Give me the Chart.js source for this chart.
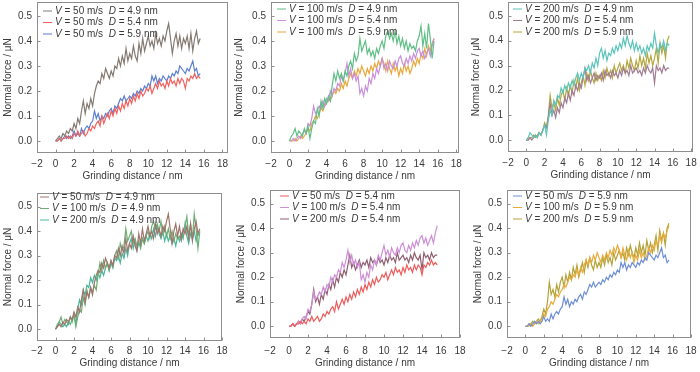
<!DOCTYPE html>
<html>
<head>
<meta charset="utf-8">
<script src="https://cdn.jsdelivr.net/npm/chart.js@4.4.1/dist/chart.umd.min.js"></script>
<style>
  html, body { margin: 0; padding: 0; background: #fff; }
  body { width: 700px; height: 372px; position: relative; overflow: hidden; }
  .panel { position: absolute; }
</style>
</head>
<body>
<div class="panel" id="w1"><canvas id="c1"></canvas></div>
<div class="panel" id="w2"><canvas id="c2"></canvas></div>
<div class="panel" id="w3"><canvas id="c3"></canvas></div>
<div class="panel" id="w4"><canvas id="c4"></canvas></div>
<div class="panel" id="w5"><canvas id="c5"></canvas></div>
<div class="panel" id="w6"><canvas id="c6"></canvas></div>
<script>
// grinding distance (nm), shared by every curve
const distance = [
  0, 0.2, 0.4, 0.6, 0.8, 1, 1.2, 1.4, 1.6, 1.8,
  2, 2.2, 2.4, 2.6, 2.8, 3, 3.2, 3.4, 3.6, 3.8,
  4, 4.2, 4.4, 4.6, 4.8, 5, 5.2, 5.4, 5.6, 5.8,
  6, 6.2, 6.4, 6.6, 6.8, 7, 7.2, 7.4, 7.6, 7.8,
  8, 8.2, 8.4, 8.6, 8.8, 9, 9.2, 9.4, 9.6, 9.8,
  10, 10.2, 10.4, 10.6, 10.8, 11, 11.2, 11.4, 11.6, 11.8,
  12, 12.2, 12.4, 12.6, 12.8, 13, 13.2, 13.4, 13.6, 13.8,
  14, 14.2, 14.4, 14.6, 14.8, 15, 15.2, 15.4, 15.6
];

// normal force (uN) for each V / D case
const v50d49 = [
  0.00, 0.01, 0.02, 0.01, 0.03, 0.02, 0.04, 0.03, 0.05, 0.04,
  0.07, 0.05, 0.09, 0.07, 0.12, 0.16, 0.11, 0.15, 0.13, 0.17,
  0.14, 0.19, 0.22, 0.24, 0.23, 0.27, 0.25, 0.29, 0.27, 0.25,
  0.28, 0.26, 0.30, 0.29, 0.33, 0.30, 0.34, 0.31, 0.37, 0.32,
  0.35, 0.33, 0.38, 0.34, 0.32, 0.39, 0.35, 0.41, 0.36, 0.39,
  0.42, 0.38, 0.40, 0.37, 0.43, 0.39, 0.41, 0.38, 0.42, 0.40,
  0.44, 0.47, 0.41, 0.35, 0.40, 0.43, 0.38, 0.42, 0.37, 0.41,
  0.39, 0.42, 0.37, 0.43, 0.36, 0.41, 0.44, 0.39, 0.41
];
const v50d54 = [
  0.00, 0.00, 0.01, 0.00, 0.01, 0.01, 0.02, 0.01, 0.02, 0.01,
  0.03, 0.02, 0.04, 0.02, 0.03, 0.04, 0.02, 0.03, 0.05, 0.04,
  0.06, 0.05, 0.07, 0.08, 0.06, 0.10, 0.07, 0.09, 0.11, 0.09,
  0.12, 0.10, 0.13, 0.11, 0.14, 0.12, 0.15, 0.13, 0.16, 0.14,
  0.17, 0.15, 0.18, 0.16, 0.19, 0.17, 0.20, 0.18, 0.19, 0.21,
  0.20, 0.22, 0.19, 0.21, 0.23, 0.21, 0.24, 0.22, 0.23, 0.21,
  0.24, 0.22, 0.25, 0.23, 0.24, 0.22, 0.25, 0.23, 0.25, 0.24,
  0.21, 0.25, 0.24, 0.26, 0.25, 0.27, 0.25, 0.26, 0.25
];
const v50d59 = [
  0.00, 0.00, 0.01, 0.00, 0.01, 0.02, 0.01, 0.02, 0.01, 0.02,
  0.04, 0.02, 0.03, 0.02, 0.05, 0.03, 0.05, 0.06, 0.05, 0.07,
  0.08, 0.12, 0.09, 0.11, 0.08, 0.10, 0.09, 0.11, 0.10, 0.12,
  0.13, 0.11, 0.14, 0.13, 0.15, 0.17, 0.16, 0.18, 0.16, 0.17,
  0.18, 0.17, 0.19, 0.18, 0.20, 0.19, 0.21, 0.20, 0.22, 0.21,
  0.23, 0.22, 0.26, 0.24, 0.26, 0.23, 0.25, 0.24, 0.26, 0.25,
  0.24, 0.26, 0.25, 0.27, 0.26, 0.28, 0.27, 0.30, 0.29, 0.28,
  0.27, 0.29, 0.28, 0.30, 0.32, 0.28, 0.29, 0.26, 0.27
];
const v100d49 = [
  0.00, 0.02, 0.03, 0.05, 0.02, 0.04, 0.03, 0.02, 0.05, 0.03,
  0.06, 0.01, 0.05, 0.08, 0.07, 0.13, 0.10, 0.16, 0.13, 0.17,
  0.15, 0.18, 0.16, 0.22, 0.27, 0.24, 0.28, 0.25, 0.27, 0.24,
  0.28, 0.26, 0.30, 0.32, 0.29, 0.35, 0.32, 0.34, 0.41, 0.36,
  0.38, 0.40, 0.35, 0.37, 0.34, 0.36, 0.33, 0.37, 0.35, 0.38,
  0.40, 0.37, 0.42, 0.44, 0.41, 0.43, 0.40, 0.44, 0.39, 0.42,
  0.38, 0.41, 0.37, 0.40, 0.36, 0.39, 0.37, 0.38, 0.36, 0.40,
  0.42, 0.46, 0.38, 0.43, 0.37, 0.47, 0.41, 0.33, 0.40
];
const v100d54 = [
  0.00, 0.00, 0.01, 0.00, 0.01, 0.02, 0.01, 0.03, 0.04, 0.03,
  0.07, 0.06, 0.09, 0.14, 0.11, 0.12, 0.14, 0.13, 0.16, 0.14,
  0.17, 0.16, 0.20, 0.18, 0.21, 0.20, 0.23, 0.22, 0.26, 0.24,
  0.27, 0.31, 0.26, 0.29, 0.25, 0.27, 0.24, 0.26, 0.19, 0.21,
  0.18, 0.22, 0.20, 0.25, 0.23, 0.27, 0.25, 0.29, 0.27, 0.30,
  0.33, 0.29, 0.31, 0.28, 0.32, 0.30, 0.29, 0.32, 0.30, 0.33,
  0.34, 0.31, 0.30, 0.33, 0.31, 0.34, 0.32, 0.35, 0.33, 0.36,
  0.37, 0.34, 0.36, 0.33, 0.35, 0.37, 0.34, 0.38, 0.41
];
const v100d59 = [
  0.00, 0.00, 0.00, 0.01, 0.00, 0.01, 0.02, 0.01, 0.02, 0.03,
  0.05, 0.04, 0.07, 0.08, 0.10, 0.09, 0.11, 0.13, 0.12, 0.14,
  0.15, 0.17, 0.16, 0.18, 0.20, 0.19, 0.21, 0.20, 0.23, 0.21,
  0.24, 0.22, 0.25, 0.27, 0.25, 0.28, 0.26, 0.29, 0.27, 0.30,
  0.28, 0.26, 0.29, 0.27, 0.30, 0.28, 0.31, 0.29, 0.32, 0.30,
  0.33, 0.31, 0.28, 0.32, 0.29, 0.27, 0.31, 0.28, 0.30, 0.26,
  0.29, 0.27, 0.31, 0.28, 0.30, 0.27, 0.29, 0.32, 0.30, 0.33,
  0.31, 0.35, 0.33, 0.37, 0.34, 0.38, 0.36, 0.39, 0.41
];
const v200d49 = [
  0.00, 0.01, 0.03, 0.02, 0.01, 0.02, 0.01, 0.03, 0.02, 0.04,
  0.06, 0.02, 0.08, 0.12, 0.10, 0.16, 0.14, 0.18, 0.17, 0.21,
  0.19, 0.22, 0.20, 0.23, 0.21, 0.24, 0.22, 0.25, 0.27, 0.24,
  0.27, 0.25, 0.29, 0.28, 0.30, 0.27, 0.31, 0.29, 0.33, 0.30,
  0.35, 0.37, 0.33, 0.36, 0.32, 0.35, 0.34, 0.37, 0.35, 0.38,
  0.36, 0.39, 0.37, 0.41, 0.38, 0.42, 0.39, 0.37, 0.40, 0.36,
  0.39, 0.36, 0.38, 0.35, 0.37, 0.34, 0.38, 0.36, 0.39, 0.37,
  0.43, 0.38, 0.35, 0.39, 0.37, 0.40, 0.36, 0.39, 0.38
];
const v200d54 = [
  0.00, 0.00, 0.01, 0.00, 0.01, 0.02, 0.01, 0.03, 0.02, 0.04,
  0.06, 0.05, 0.09, 0.15, 0.10, 0.12, 0.09, 0.13, 0.11, 0.15,
  0.13, 0.17, 0.15, 0.19, 0.16, 0.20, 0.18, 0.22, 0.20, 0.23,
  0.21, 0.25, 0.29, 0.24, 0.26, 0.23, 0.25, 0.27, 0.24, 0.26,
  0.25, 0.27, 0.24, 0.28, 0.26, 0.27, 0.25, 0.28, 0.26, 0.27,
  0.25, 0.28, 0.26, 0.29, 0.27, 0.28, 0.26, 0.30, 0.27, 0.28,
  0.29, 0.27, 0.28, 0.26, 0.29, 0.27, 0.30, 0.28, 0.27, 0.29,
  0.23, 0.30, 0.28, 0.29, 0.27, 0.30, 0.28, 0.29, 0.29
];
const v200d59 = [
  0.00, 0.00, 0.01, 0.01, 0.02, 0.01, 0.02, 0.03, 0.02, 0.04,
  0.07, 0.05, 0.10, 0.18, 0.13, 0.15, 0.12, 0.17, 0.14, 0.18,
  0.20, 0.16, 0.21, 0.18, 0.22, 0.19, 0.24, 0.21, 0.25, 0.20,
  0.23, 0.26, 0.22, 0.27, 0.24, 0.28, 0.25, 0.23, 0.27, 0.24,
  0.26, 0.24, 0.28, 0.25, 0.29, 0.26, 0.28, 0.25, 0.30, 0.27,
  0.29, 0.31, 0.28, 0.30, 0.27, 0.32, 0.29, 0.33, 0.30, 0.28,
  0.32, 0.29, 0.34, 0.30, 0.33, 0.29, 0.35, 0.31, 0.34, 0.30,
  0.33, 0.37, 0.31, 0.39, 0.35, 0.38, 0.33, 0.40, 0.42
];

const xTicks = [-2, 0, 2, 4, 6, 8, 10, 12, 14, 16, 18];
const yTicks = [0.0, 0.1, 0.2, 0.3, 0.4, 0.5];

// which curves go in which panel: [values, speed m/s, D nm, colour]
const panels = [
  { box: [0, 0, 235, 185], pt: 2, pr: 7, yw: 37, ytp: 2.5, xpad: 5, xtp: 3, xmax: 18.6, leg: [6, 9],
    lines: [[v50d49, 50, 4.9, '#857a72'], [v50d54, 50, 5.4, '#f0625e'], [v50d59, 50, 5.9, '#5a7fd0']] },
  { box: [231, 0, 235, 185], pt: 2, pr: 7, yw: 40, ytp: 2.5, xpad: 5, xtp: 3, xmax: 18.3, leg: [6, 7],
    lines: [[v100d49, 100, 4.9, '#5fbf85'], [v100d54, 100, 5.4, '#c88fdc'], [v100d59, 100, 5.9, '#e9a93a']] },
  { box: [468, 0, 232, 184], pt: 2, pr: 7, yw: 40, ytp: 2.5, xpad: 5, xtp: 3, xmax: 18.2, leg: [5, 7],
    lines: [[v200d49, 200, 4.9, '#5cc5bb'], [v200d54, 200, 5.4, '#a07c93'], [v200d59, 200, 5.9, '#b5a73f']] },
  { box: [0, 188, 229, 185], pt: 5, pr: 7, yw: 37, ytp: 2.5, xpad: 4, xtp: 4, xmax: 18, leg: [3, 4],
    lines: [[v50d49, 50, 4.9, '#a0746c'], [v100d49, 100, 4.9, '#6eae74'], [v200d49, 200, 4.9, '#4ab59b']] },
  { box: [230, 186, 237, 184], pt: 4, pr: 7, yw: 40, ytp: 5, xpad: 7, xtp: 1, xmax: 18, leg: [10, 6],
    lines: [[v50d54, 50, 5.4, '#ee5c5c'], [v100d54, 100, 5.4, '#cf8fd8'], [v200d54, 200, 5.4, '#8f5f70']] },
  { box: [467, 186, 231, 184], pt: 4, pr: 7, yw: 40, ytp: 5, xpad: 7, xtp: 1, xmax: 18, leg: [6, 6],
    lines: [[v50d59, 50, 5.9, '#6e8fd6'], [v100d59, 100, 5.9, '#e7ab3c'], [v200d59, 200, 5.9, '#b3a236']] }
];

const FONT = '"Liberation Sans", Arial, sans-serif';
const TEXT = '#3a3a3a';

// grey frame, small inward ticks and the V/D legend inside the plot
const framePlugin = {
  id: 'frame',
  afterDraw(chart, args, opts) {
    const { ctx, chartArea: a, scales } = chart;
    const L = Math.round(a.left) + 0.5, R = Math.round(a.right) - 0.5;
    const T = Math.round(a.top) + 0.5, B = Math.round(a.bottom) - 0.5;
    ctx.save();
    ctx.strokeStyle = '#8e8e8e';
    ctx.lineWidth = 1;
    ctx.strokeRect(L, T, R - L, B - T);
    ctx.beginPath();
    scales.x.ticks.forEach(t => {
      const px = Math.round(scales.x.getPixelForValue(t.value)) + 0.5;
      ctx.moveTo(px, B); ctx.lineTo(px, B - 3);
    });
    scales.y.ticks.forEach(t => {
      const py = Math.round(scales.y.getPixelForValue(t.value)) + 0.5;
      ctx.moveTo(L, py); ctx.lineTo(L + 3, py);
    });
    ctx.stroke();

    ctx.textBaseline = 'middle';
    chart.data.datasets.forEach((ds, i) => {
      const y = a.top + opts.dy + i * 11.5;
      let x = a.left + opts.dx;
      ctx.strokeStyle = ds.borderColor;
      ctx.beginPath();
      ctx.moveTo(x, y); ctx.lineTo(x + 9, y);
      ctx.stroke();
      x += 12;
      const parts = [['V', true], [' = ' + ds.speed + ' m/s  ', false], ['D', true], [' = ' + ds.dia.toFixed(1) + ' nm', false]];
      ctx.fillStyle = TEXT;
      parts.forEach(([s, it]) => {
        ctx.font = (it ? 'italic ' : '') + '10px ' + FONT;
        ctx.fillText(s, x, y);
        x += ctx.measureText(s).width;
      });
    });
    ctx.restore();
  }
};

panels.forEach((p, k) => {
  const wrap = document.getElementById('w' + (k + 1));
  const cv = document.getElementById('c' + (k + 1));
  const [left, top, w, h] = p.box;
  wrap.style.left = left + 'px';
  wrap.style.top = top + 'px';
  cv.width = w; cv.height = h;
  cv.style.width = w + 'px'; cv.style.height = h + 'px';

  new Chart(cv.getContext('2d'), {
    type: 'line',
    data: {
      datasets: p.lines.map(([vals, speed, dia, color]) => ({
        label: 'V = ' + speed + ' m/s  D = ' + dia + ' nm',
        speed: speed,
        dia: dia,
        data: distance.map((d, i) => ({ x: d, y: vals[i] })),
        borderColor: color,
        borderWidth: 1.2,
        pointRadius: 0,
        tension: 0,
        fill: false
      }))
    },
    options: {
      responsive: false,
      animation: false,
      layout: { padding: { top: p.pt, right: p.pr, left: 0, bottom: 0 } },
      plugins: {
        legend: { display: false },
        tooltip: { enabled: false },
        frame: { dx: p.leg[0], dy: p.leg[1] }
      },
      scales: {
        x: {
          type: 'linear',
          min: -2,
          max: p.xmax,
          afterFit: s => { s.height = 32; s.paddingLeft = 0; s.paddingRight = 0; },
          afterBuildTicks: s => { s.ticks = xTicks.map(v => ({ value: v })); },
          grid: { display: false, drawTicks: false },
          border: { display: false },
          ticks: {
            padding: p.xpad,
            color: TEXT,
            font: { family: FONT, size: 10 },
            maxRotation: 0,
            autoSkip: false,
            callback: v => String(v).replace('-', '\u2212')
          },
          title: {
            display: true,
            text: 'Grinding distance / nm',
            color: TEXT,
            font: { family: FONT, size: 10 },
            padding: { top: 0, bottom: p.xtp }
          }
        },
        y: {
          min: -0.048,
          max: 0.556,
          afterFit: s => { s.width = p.yw; s.paddingTop = 0; s.paddingBottom = 0; },
          afterBuildTicks: s => { s.ticks = yTicks.map(v => ({ value: v })); },
          grid: { display: false, drawTicks: false },
          border: { display: false },
          ticks: {
            padding: 5,
            color: TEXT,
            font: { family: FONT, size: 10 },
            callback: v => v.toFixed(1)
          },
          title: {
            display: true,
            text: 'Normal force / \u03bcN',
            color: TEXT,
            font: { family: FONT, size: 10 },
            padding: { top: p.ytp, bottom: 0 }
          }
        }
      }
    },
    plugins: [framePlugin]
  });
});
</script>
</body>
</html>
